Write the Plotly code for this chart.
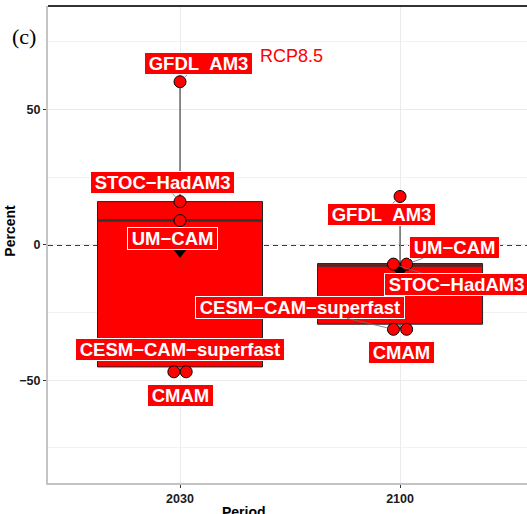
import plotly.graph_objects as go

# ---------------- data ----------------
periods = ["2030", "2100"]
models = ["GFDL_AM3", "STOC-HadAM3", "UM-CAM", "CESM-CAM-superfast", "CMAM"]
values_2030 = [60.3, 16.0, 9.0, -46.9, -46.9]
values_2100 = [17.9, -7.1, -7.1, -31.2, -31.2]
box_q1 = [-45.1, -29.3]
box_median = [9.0, -7.6]
box_q3 = [16.0, -6.9]
box_lower = [-46.9, -31.2]
box_upper = [60.3, 17.9]
period_means = [-1.5, -9.0]
scenario = "RCP8.5"
panel_tag = "(c)"

# ---------------- styles / positions ----------------
RED = "#FF0000"
jitter = {"2030": [0, 0, 0, -0.028, 0.028],
          "2100": [0, -0.03, 0.03, -0.03, 0.03]}
# (dx px, dy px, leader line) in order of `models`
label_pos = {
    "2030": [(18, -18, True), (-18, -19, True), (-8, 18, False), (6.5, -22.7, False), (-5.5, 23.3, False)],
    "2100": [(-19, 18, True), (63, 20, True), (47.5, -17, True), (-93, -22, True), (-5, 23, False)],
}
values = {"2030": values_2030, "2100": values_2100}
xpos = [i + 1 for i in range(len(periods))]
BOXW = 0.75

def disp(name):
    return "\u2009" + name.replace("_", "\u00a0\u00a0").replace("-", "\u2212") + "\u2009"

fig = go.Figure()

fig.add_trace(go.Box(
    x=xpos, q1=box_q1, median=box_median, q3=box_q3,
    lowerfence=box_lower, upperfence=box_upper,
    width=BOXW, whiskerwidth=0, boxpoints=False,
    fillcolor=RED, line=dict(color="#222222", width=1),
    hoverinfo="skip", showlegend=False,
))

# thick median lines
for xp, m in zip(xpos, box_median):
    fig.add_trace(go.Scatter(x=[xp - BOXW / 2, xp + BOXW / 2], y=[m, m], mode="lines",
                             line=dict(color="#333333", width=2.5), showlegend=False, hoverinfo="skip"))

# mean markers
fig.add_trace(go.Scatter(x=xpos, y=period_means, mode="markers",
                         marker=dict(symbol="triangle-down", size=18, color="black"),
                         showlegend=False, hoverinfo="skip"))

# points
for xp, p in zip(xpos, periods):
    fig.add_trace(go.Scatter(
        x=[xp + j for j in jitter[p]], y=values[p], mode="markers",
        marker=dict(size=12, color=RED, line=dict(color="black", width=1)),
        showlegend=False, hoverinfo="skip"))

annotations = []
for xp, p in zip(xpos, periods):
    for k, mdl in enumerate(models):
        dx, dy, arrow = label_pos[p][k]
        base = dict(x=xp + jitter[p][k], y=values[p][k], xref="x", yref="y",
                    text=disp(mdl),
                    font=dict(family="Liberation Sans", size=18.5, color="white", weight="bold"),
                    bgcolor=RED, bordercolor="white", borderwidth=1, borderpad=0)
        if arrow:
            base.update(showarrow=True, ax=dx, ay=dy, axref="pixel", ayref="pixel",
                        arrowhead=0, arrowwidth=0.8, arrowcolor="#707070", standoff=5)
        else:
            base.update(showarrow=False, xshift=dx, yshift=-dy)
        annotations.append(base)

annotations.append(dict(x=1.355, y=70, xref="x", yref="y", text=scenario, showarrow=False,
                        xanchor="left", yanchor="middle",
                        font=dict(family="Liberation Sans", size=18, color=RED)))
annotations.append(dict(x=0, y=1, xref="paper", yref="paper", text=panel_tag, showarrow=False,
                        xanchor="center", yanchor="middle", xshift=-24.5, yshift=-30,
                        font=dict(family="Liberation Serif", size=22, color="black")))
annotations.append(dict(x=0, y=0.528, xref="paper", yref="paper", text="Percent", showarrow=False,
                        textangle=-90, xanchor="center", yanchor="middle", xshift=-37.5,
                        font=dict(family="Liberation Sans", size=14, color="black", weight="bold")))
annotations.append(dict(x=0.409, y=0, xref="paper", yref="paper", text="Period", showarrow=False,
                        xanchor="center", yanchor="top", yshift=-19,
                        font=dict(family="Liberation Sans", size=14, color="black", weight="bold")))

shapes = [
    dict(type="line", xref="paper", yref="y", x0=0, x1=1, y0=0, y1=0,
         line=dict(color="black", width=1.5, dash="5px,4px"), layer="below"),
    dict(type="line", xref="paper", yref="paper", x0=0, x1=1, y0=1, y1=1,
         line=dict(color="#333333", width=2)),
]

fig.update_layout(
    width=527, height=514,
    margin=dict(l=48, r=0, t=6, b=31),
    paper_bgcolor="white", plot_bgcolor="white",
    showlegend=False,
    annotations=annotations, shapes=shapes,
    xaxis=dict(range=[0.4, 2.577], tickvals=xpos, ticktext=periods,
               showgrid=True, gridcolor="#EBEBEB", gridwidth=1,
               showline=True, linecolor="#C4C4C4", linewidth=2,
               ticks="outside", ticklen=3, tickcolor="#333333",
               tickfont=dict(family="Liberation Sans", size=12.5, color="#1a1a1a", weight="bold"),
               zeroline=False, fixedrange=True),
    yaxis=dict(range=[-88, 88.3], tickvals=[-50, 0, 50],
               showgrid=True, gridcolor="#EBEBEB", gridwidth=1,
               minor=dict(tickvals=[-75, -25, 25, 75], showgrid=True, gridcolor="#F2F2F2", gridwidth=1),
               showline=True, linecolor="#C4C4C4", linewidth=2,
               ticks="outside", ticklen=3, tickcolor="#333333",
               tickfont=dict(family="Liberation Sans", size=12.5, color="#1a1a1a", weight="bold"),
               zeroline=False, fixedrange=True),
)

fig.write_html("out.html", post_script="document.body.style.margin='0px';",
               config={"displayModeBar": False, "staticPlot": True})
